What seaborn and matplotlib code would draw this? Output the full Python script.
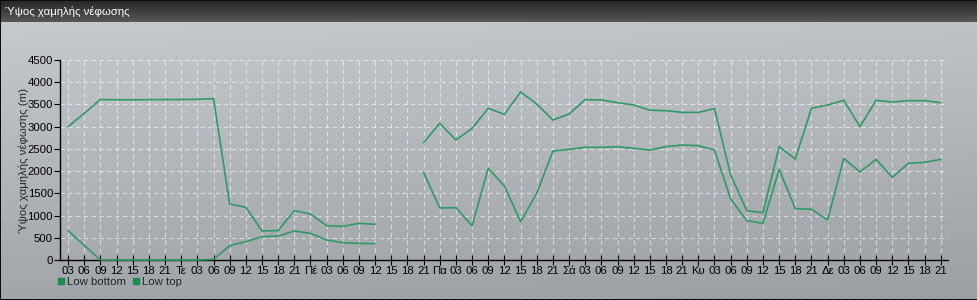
import numpy as np
import pandas as pd
import matplotlib
matplotlib.use("Agg")
import matplotlib.pyplot as plt
from matplotlib.lines import Line2D
import seaborn as sns

# ---------------- data ----------------
hour_labels = ["03", "06", "09", "12", "15", "18", "21",
               "Τε", "03", "06", "09", "12", "15", "18", "21",
               "Πέ", "03", "06", "09", "12", "15", "18", "21",
               "Πα", "03", "06", "09", "12", "15", "18", "21",
               "Σά", "03", "06", "09", "12", "15", "18", "21",
               "Κυ", "03", "06", "09", "12", "15", "18", "21",
               "Δε", "03", "06", "09", "12", "15", "18", "21"]

low_top = [3000, 3300, 3610, 3605, 3605, 3608, 3610, 3610, 3615, 3630,
           1260, 1185, 655, 660, 1110, 1035, 772, 757, 825, 802,
           None, None, 2640, 3075, 2700, 2962, 3412, 3277, 3780, 3510,
           3150, 3285, 3608, 3600, 3540, 3488, 3370, 3360, 3322, 3322,
           3405, 1912, 1110, 1065, 2550, 2272, 3412, 3488, 3592, 3000,
           3592, 3555, 3585, 3585, 3540]

low_bottom = [660, 330, 0, 0, 0, 0, 0, 0, 0, 15,
              323, 413, 525, 540, 652, 600, 450, 390, 375, 367,
              None, None, 1972, 1170, 1177, 772, 2062, 1665, 862, 1500,
              2452, 2490, 2535, 2535, 2550, 2512, 2475, 2550, 2587, 2572,
              2475, 1372, 885, 825, 2040, 1155, 1140, 900, 2287, 1980,
              2265, 1860, 2175, 2197, 2265]

series_names = ["Low bottom", "Low top"]
line_color = "#2f9a66"
legend_color = "#1d8c50"

# ---------------- tidy table ----------------
rows = []
for name, vals in zip(series_names, [low_bottom, low_top]):
    seg = 0
    for i, v in enumerate(vals):
        if v is None:
            seg += 1
            continue
        rows.append({"idx": i, "value": v, "series": name, "seg": f"{name}-{seg}"})
df = pd.DataFrame(rows)

# ---------------- figure ----------------
W, H = 978, 300
sns.set_theme(style="ticks")
plt.rcParams["font.family"] = ["Liberation Sans", "DejaVu Sans"]
FS = 8.2

fig = plt.figure(figsize=(W / 100, H / 100), dpi=100)

# background: gradient + diagonal stripes + title bar + border
yy, xx = np.mgrid[0:H, 0:W]
t = yy / H
base_top = np.array([0.805, 0.818, 0.835])
base_bot = np.array([0.650, 0.662, 0.680])
img = base_top[None, None, :] * (1 - t[..., None]) + base_bot[None, None, :] * t[..., None]
img = img - 0.025 * (xx / W)[..., None]
stripe = ((xx + yy) % 4) < 2
img = img - 0.035 * stripe[..., None]
bar_h = 22
tb = np.linspace(0.15, 0.34, bar_h)
img[:bar_h, :, :] = tb[:, None, None]
img[0, :, :] = 0.05
img[-1, :, :] = 0.05
img[:, 0, :] = 0.05
img[:, -1, :] = 0.05
img = np.clip(img, 0, 1)

bg = fig.add_axes([0, 0, 1, 1], zorder=-5)
bg.imshow(img, aspect="auto", interpolation="nearest", extent=(0, W, H, 0))
bg.set_axis_off()

fig.text(5 / W, 1 - 11.5 / H, "Ύψος χαμηλής νέφωσης", color="white",
         fontsize=8.2, va="center", ha="left")

# main axes
left, right, top, bottom = 60, 948, 60, 260
ax = fig.add_axes([left / W, 1 - bottom / H, (right - left) / W, (bottom - top) / H])
ax.set_facecolor("none")

sns.lineplot(data=df, x="idx", y="value", hue="series", units="seg",
             estimator=None, palette=[line_color, line_color], sort=True,
             linewidth=1.2, legend=False, ax=ax)
for ln in ax.get_lines():
    ln.set_zorder(4)
    ln.set_clip_on(False)

ax.set_xlim(-0.5, 54.45)
ax.set_ylim(0, 4500)
ax.set_yticks(np.arange(0, 4501, 500))
ax.set_xticks(range(len(hour_labels)))
ax.set_xticklabels(hour_labels)
ax.tick_params(axis="x", direction="inout", length=7, width=0.8, pad=1,
               labelsize=FS, colors="black")
ax.tick_params(axis="y", direction="out", length=4, width=0.8, pad=1,
               labelsize=FS, colors="black")
ax.set_xlabel("")
ax.set_ylabel("Ύψος χαμηλής νέφωσης (m)", fontsize=FS, labelpad=-1)

for s in ["top", "right"]:
    ax.spines[s].set_visible(False)
for s in ["left", "bottom"]:
    ax.spines[s].set_color("black")
    ax.spines[s].set_linewidth(1.0)
    ax.spines[s].set_zorder(3)

ax.grid(True, color="white", alpha=0.55, linestyle=(0, (4, 3)), linewidth=0.8)
ax.set_axisbelow(True)

handles = [Line2D([], [], marker="s", linestyle="none", markersize=4.5,
                  markerfacecolor=legend_color, markeredgecolor=legend_color)
           for _ in series_names]
fig.legend(handles, series_names, loc="center left",
           bbox_to_anchor=(58 / W, 1 - 282 / H), ncol=2, frameon=False,
           fontsize=FS, handlelength=0.6, handletextpad=0.2,
           columnspacing=0.6, borderpad=0, borderaxespad=0)

fig.savefig("out.png", dpi=100)
